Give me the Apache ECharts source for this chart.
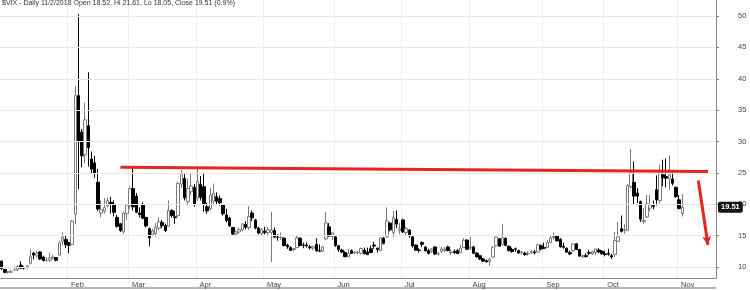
<!DOCTYPE html>
<html><head><meta charset="utf-8">
<script src="https://cdn.jsdelivr.net/npm/echarts@6/dist/echarts.min.js"></script>
<style>html,body{margin:0;padding:0;background:#fff}#c{width:750px;height:290px}</style>
</head><body><div id="c"></div>
<script>
const monthNames = ['Jan','Feb','Mar','Apr','May','Jun','Jul','Aug','Sep','Oct','Nov'];
const tradingDays = [
 [2,3,4,5,8,9,10,11,12,16,17,18,19,22,23,24,25,26,29,30,31],
 [1,2,5,6,7,8,9,12,13,14,15,16,20,21,22,23,26,27,28],
 [1,2,5,6,7,8,9,12,13,14,15,16,19,20,21,22,23,26,27,28,29],
 [2,3,4,5,6,9,10,11,12,13,16,17,18,19,20,23,24,25,26,27,30],
 [1,2,3,4,7,8,9,10,11,14,15,16,17,18,21,22,23,24,25,29,30,31],
 [1,4,5,6,7,8,11,12,13,14,15,18,19,20,21,22,25,26,27,28,29],
 [2,3,5,6,9,10,11,12,13,16,17,18,19,20,23,24,25,26,27,30,31],
 [1,2,3,6,7,8,9,10,13,14,15,16,17,20,21,22,23,24,27,28,29,30,31],
 [4,5,6,7,10,11,12,13,14,17,18,19,20,21,24,25,26,27,28],
 [1,2,3,4,5,8,9,10,11,12,15,16,17,18,19,22,23,24,25,26,29,30,31],
 [1,2,5,6,7,8,9,12,13,14,15,16]
];
const opens = [
 10.95,9.6,9.22,9.19,9.52,9.55,10.3,9.9,9.95,10.6,12.2,11.8,12.4,11.6,11.0,11.1,11.4,11.5,11.9,14.1,14.4,
 13.9,13.6,18.4,37.3,31.5,27.9,32.5,27.2,26.6,23.5,18.6,18.9,19.8,20.3,20.0,17.9,16.9,15.6,18.5,
 19.9,22.5,21.3,18.6,19.9,17.9,16.1,15.2,15.3,16.2,17.1,16.6,16.5,19.0,18.0,18.2,23.2,24.1,20.4,22.0,22.7,
 21.0,23.2,22.8,19.6,19.3,20.5,21.2,20.9,19.9,18.3,17.8,16.3,15.3,15.6,15.9,16.8,16.3,18.6,17.5,16.2,15.3,
 15.7,15.5,15.5,15.8,14.8,14.7,14.6,13.5,13.1,12.8,13.1,14.6,13.5,13.5,13.2,13.0,13.6,12.6,12.5,14.5,16.4,14.9,
 14.8,13.4,12.7,12.3,11.6,12.6,12.3,12.3,12.2,12.7,12.4,12.9,13.5,13.0,12.6,14.6,14.8,17.0,15.5,17.6,15.8,
 17.5,15.5,15.9,14.8,13.5,12.7,13.9,13.2,12.6,12.5,13.2,12.1,12.5,12.6,13.2,12.3,12.5,12.6,12.3,13.1,14.3,
 13.0,13.2,12.2,11.8,11.3,11.0,10.9,11.6,13.4,14.5,13.6,14.6,13.3,12.8,12.9,12.6,12.3,12.2,12.1,12.3,12.4,12.4,13.4,
 13.1,13.1,13.9,14.7,14.9,14.4,13.3,13.0,12.3,12.6,13.7,12.8,11.7,11.8,12.3,12.1,12.3,12.7,12.5,
 12.1,12.2,11.8,12.0,14.1,16.1,15.8,15.8,22.8,23.5,21.8,20.4,17.2,18.0,19.4,19.8,22.3,20.6,24.7,24.4,24.0,24.0,22.7,
 20.7,18.52
];
const highs = [
 10.99,9.65,9.31,9.54,10.06,10.32,10.9,10.1,10.3,12.8,12.4,12.6,12.5,11.8,11.6,12.3,12.0,11.6,14.2,15.5,15.0,
 14.0,17.5,38.8,50.3,32.0,36.2,41.06,28.4,27.7,25.6,20.6,21.0,21.1,21.2,20.6,18.3,17.0,18.8,20.1,
 22.9,25.72,21.8,19.5,20.3,18.0,16.3,16.1,17.0,17.9,17.5,16.9,20.6,19.2,18.9,23.6,25.5,24.9,24.1,25.0,23.2,
 25.6,24.5,25.0,20.2,22.6,23.3,21.9,21.4,20.0,19.3,18.0,16.4,15.8,16.3,17.0,17.3,19.7,19.0,17.7,16.4,16.2,
 16.4,16.4,18.8,16.3,15.2,15.5,14.7,13.7,13.3,13.0,15.1,14.7,13.9,13.9,13.5,13.4,14.6,13.6,13.3,18.8,17.0,15.6,
 14.9,13.5,12.9,12.5,12.9,12.8,12.5,12.6,13.1,13.1,13.1,13.4,14.0,13.1,14.7,14.8,19.5,17.1,18.9,19.0,17.0,
 17.7,16.4,16.0,15.1,13.6,13.0,14.1,13.3,12.9,13.0,13.3,12.4,13.2,13.2,13.4,12.8,12.8,12.9,13.6,14.6,14.4,
 14.8,13.4,12.4,11.9,11.4,11.2,11.5,13.3,14.8,14.6,16.9,14.7,13.4,13.1,13.1,12.8,12.6,12.4,12.5,12.7,12.7,13.7,13.6,
 13.9,14.3,15.0,15.5,15.1,14.6,13.9,13.1,12.6,13.8,13.8,12.9,12.0,12.2,12.7,12.6,12.9,13.0,12.7,
 12.6,12.9,12.1,15.6,17.2,18.2,16.8,23.2,28.8,26.8,22.6,20.6,19.4,21.5,21.5,20.6,24.6,26.3,27.1,27.3,27.8,25.1,22.8,
 21.5,21.61
];
const lows = [
 9.52,8.99,8.92,9.0,9.47,9.36,9.8,9.6,9.6,10.4,11.2,11.5,11.1,10.9,10.9,10.8,11.2,10.9,11.8,13.5,13.0,
 12.2,13.5,16.8,22.4,25.9,26.5,26.0,24.8,24.2,18.9,17.9,18.5,19.5,18.5,18.1,16.3,15.6,15.3,17.5,
 19.3,19.0,18.6,17.9,17.7,16.3,13.3,14.9,14.8,15.9,16.2,15.6,16.4,17.9,16.9,18.0,22.6,20.6,19.8,21.5,19.6,
 20.5,20.6,18.8,18.5,19.0,20.0,20.0,19.8,18.2,17.1,16.4,15.0,14.9,15.3,15.7,16.0,15.9,17.3,16.0,15.2,15.0,
 15.2,14.9,10.8,14.6,14.2,14.3,13.3,12.9,12.6,12.5,13.0,13.3,13.0,13.1,12.8,12.7,12.5,12.4,12.4,14.3,14.8,14.3,
 13.2,12.4,12.2,11.6,11.6,12.1,12.0,12.0,12.0,12.0,11.9,12.2,12.9,12.3,12.6,13.6,14.7,15.7,14.8,16.2,15.2,
 15.4,14.9,14.7,13.1,12.6,12.3,13.2,12.5,12.0,12.2,11.9,11.8,12.2,12.4,12.5,11.9,12.1,12.1,12.2,13.0,12.7,
 12.7,12.1,11.5,11.1,10.8,10.7,10.2,11.5,13.2,13.2,13.4,13.3,12.5,12.3,12.4,12.1,12.0,11.8,11.8,12.1,12.0,12.3,12.7,
 12.9,13.0,13.8,14.4,14.1,13.1,12.9,12.3,11.9,12.4,12.7,11.6,11.4,11.5,11.9,11.9,11.9,12.2,11.9,
 11.7,11.8,11.3,11.6,14.0,15.5,15.3,15.7,22.5,20.0,20.2,17.2,16.9,17.8,18.9,19.2,19.8,20.1,22.9,22.7,22.3,23.0,21.0,
 19.2,18.05
];
const closes = [
 9.77,9.15,9.22,9.22,9.52,10.08,9.82,9.88,10.16,11.66,11.91,12.22,11.27,11.03,11.10,11.47,11.58,11.08,13.84,14.79,13.54,
 13.47,17.31,37.32,29.98,27.73,33.46,29.06,25.61,24.97,19.26,19.13,19.46,20.60,20.02,18.72,16.49,15.80,18.59,19.85,
 22.47,19.59,18.73,18.36,17.76,16.54,14.64,15.78,16.35,17.23,16.59,15.80,19.02,18.20,17.86,23.34,24.87,21.03,22.50,22.87,19.97,
 23.62,21.10,20.06,18.94,21.49,21.77,20.47,20.24,18.49,17.41,16.56,15.25,15.60,15.96,16.88,16.34,18.02,17.84,16.24,15.41,15.93,
 15.49,15.97,15.90,14.77,14.75,14.71,13.42,13.23,12.65,12.93,14.63,13.42,13.43,13.42,13.08,13.22,12.58,12.53,13.22,17.02,14.94,15.43,
 13.46,12.74,12.40,11.64,12.13,12.18,12.35,12.34,12.94,12.12,11.98,12.31,13.35,12.79,14.64,13.77,17.33,15.92,17.91,16.85,16.09,
 15.60,16.14,14.97,13.37,12.69,12.64,13.63,12.58,12.18,12.83,12.06,12.10,12.87,12.86,12.62,12.41,12.29,12.14,13.03,14.26,12.83,
 13.15,12.19,11.64,11.27,10.93,10.85,11.27,13.16,14.78,13.31,14.64,13.45,12.64,12.49,12.86,12.25,12.41,11.99,12.16,12.50,12.25,13.53,12.86,
 12.98,13.91,14.65,14.88,14.16,13.22,13.14,12.37,12.07,13.68,12.79,11.75,11.80,11.68,12.20,12.42,12.89,12.41,12.12,
 12.00,12.05,11.61,14.22,14.82,15.69,15.95,22.96,24.98,21.31,21.30,17.62,17.40,20.06,19.89,19.64,20.71,25.23,24.22,24.16,24.70,23.35,21.23,
 19.34,19.51
];
const yTicks = [10,15,20,25,30,35,40,45,50];
const resistanceLine = [['2018-02-26',25.9],['2018-11-14',25.24]];
const downArrow = [['2018-11-09',23.8],['2018-11-14',13.5]];
const lastClose = 19.51;
const titleText = '$VIX - Daily 11/2/2018 Open 18.52, Hi 21.61, Lo 18.05, Close 19.51 (0.9%)';

const pad = n => (n < 10 ? '0' : '') + n;
const cats = [];
const monthStart = new Set();
tradingDays.forEach((days, m) => {
  days.forEach((d, k) => {
    if (k === 0 && cats.length > 0) monthStart.add(cats.length);
    cats.push('2018-' + pad(m + 1) + '-' + pad(d));
  });
});
const isStart = i => monthStart.has(i);
const candles = cats.map((c, i) => i < closes.length ? [opens[i], closes[i], lows[i], highs[i]] : '-');
const font = 'Arial, "Liberation Sans", sans-serif';

const chart = echarts.init(document.getElementById('c'), null, {renderer: 'canvas'});
chart.setOption({
  animation: false,
  backgroundColor: '#fff',
  title: {text: titleText, left: 2, top: 0, padding: 0,
    textStyle: {fontSize: 7, fontWeight: 'normal', color: '#333', fontFamily: font}},
  grid: {left: 0, right: 34, top: 0, bottom: 12},
  xAxis: {
    type: 'category', data: cats, boundaryGap: true,
    axisLine: {lineStyle: {color: '#888', width: 1}},
    axisTick: {interval: i => isStart(i), alignWithLabel: true, length: 4, lineStyle: {color: '#555'}},
    axisLabel: {interval: i => isStart(i), formatter: v => monthNames[+v.slice(5, 7) - 1],
      align: 'left', margin: 3, fontSize: 7.5, color: '#444', fontFamily: font, padding: [0, 0, 0, 2]},
    splitLine: {show: true, interval: i => isStart(i), lineStyle: {color: '#ededed', width: 1}}
  },
  yAxis: {
    type: 'value', position: 'right', min: 8.25, max: 52.55,
    axisLine: {show: true, lineStyle: {color: '#888'}},
    axisTick: {show: true, customValues: yTicks, length: 3, lineStyle: {color: '#888'}},
    axisLabel: {customValues: yTicks, margin: 22, fontSize: 7.5, color: '#444', fontFamily: font},
    splitLine: {show: false}
  },
  series: [
    {type: 'line', data: [], silent: true, z: 1,
     markLine: {silent: true, symbol: 'none', animation: false, label: {show: false},
       lineStyle: {color: '#e8e8e8', width: 1, type: 'solid'},
       data: yTicks.map(v => ({yAxis: v}))}},
    {type: 'candlestick', data: candles, barWidth: 3, z: 3,
     itemStyle: {color: '#ffffff', color0: '#000000', borderColor: '#7a7a7a', borderColor0: '#000000', borderWidth: 1},
     markLine: {silent: true, symbol: 'none', animation: false, label: {show: false},
       data: [
         [{coord: resistanceLine[0], lineStyle: {color: '#e3261f', width: 3, type: 'solid'}},
          {coord: resistanceLine[1]}],
         [{coord: downArrow[0], symbol: 'none', lineStyle: {color: '#e3261f', width: 3, type: 'solid'}},
          {coord: downArrow[1], symbol: 'arrow', symbolSize: [7, 9]}]
       ]}},
    {type: 'line', data: [], silent: true, z: 5,
     markLine: {silent: true, symbol: 'none', animation: false,
       lineStyle: {color: 'rgba(0,0,0,0)', width: 1, type: 'solid'},
       label: {show: true, position: 'end', distance: 2, formatter: () => lastClose.toFixed(2),
         color: '#fff', backgroundColor: '#151515', fontSize: 7.5, fontWeight: 'bold', fontFamily: font,
         padding: [2, 3, 1, 3], borderRadius: 2},
       data: [{yAxis: lastClose}]}}
  ],
  graphic: [
    {type: 'line', shape: {x1: 0, y1: 288, x2: 716, y2: 288}, style: {stroke: '#b5b5b5', lineWidth: 2}, silent: true}
  ]
});
</script>
</body></html>
